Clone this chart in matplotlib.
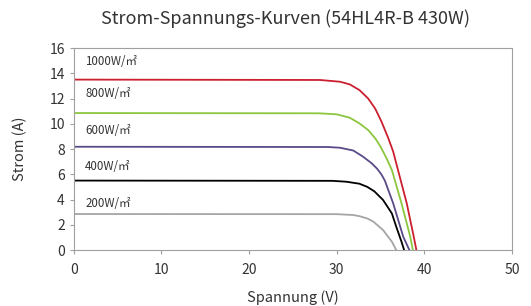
import matplotlib.pyplot as plt

plt.rcParams['font.family'] = ['Noto Sans CJK SC', 'DejaVu Sans']

# I-V curves (voltage V, current A)
v_1000 = [0, 28.1, 30.4, 31.5, 32.6, 33.6, 34.4, 35.1, 35.9, 36.45, 37.0, 38.0, 38.8, 39.1]
i_1000 = [13.5, 13.47, 13.33, 13.12, 12.67, 12.0, 11.2, 10.2, 8.85, 7.8, 6.34, 3.7, 1.05, 0]
v_800 = [0, 28.0, 30.0, 31.5, 32.6, 33.6, 34.4, 35.0, 35.7, 36.3, 37.4, 38.4, 38.7]
i_800 = [10.85, 10.83, 10.75, 10.48, 10.03, 9.5, 8.85, 8.2, 7.26, 6.34, 3.7, 1.05, 0]
v_600 = [0, 29.0, 30.4, 31.9, 33.0, 34.0, 34.6, 35.1, 35.5, 36.45, 37.6, 38.3]
i_600 = [8.18, 8.16, 8.1, 7.88, 7.4, 6.87, 6.45, 6.0, 5.5, 3.7, 1.05, 0]
v_400 = [0, 29.5, 31.1, 32.6, 33.5, 34.3, 35.3, 36.3, 36.8, 37.4, 37.7]
i_400 = [5.5, 5.48, 5.41, 5.25, 5.0, 4.65, 3.96, 2.9, 1.85, 0.66, 0]
v_200 = [0, 30.0, 31.9, 32.6, 33.5, 34.2, 35.3, 36.3, 36.8]
i_200 = [2.85, 2.84, 2.77, 2.68, 2.5, 2.24, 1.58, 0.66, 0]

labels = ['1000W/㎡', '800W/㎡', '600W/㎡', '400W/㎡', '200W/㎡']
label_y = [14.9, 12.4, 9.5, 6.6, 3.7]
colors = ['#cc1f2f', '#8cc63e', '#5a4a88', '#000000', '#a5a5a5']

fig = plt.figure(figsize=(5.31, 3.06), dpi=100)
ax = fig.add_axes([0.139, 0.183, 0.825, 0.66])

curves = [(v_1000, i_1000), (v_800, i_800), (v_600, i_600), (v_400, i_400), (v_200, i_200)]
for (v, i), c in zip(curves, colors):
    ax.plot(v, i, color=c, lw=1.3, solid_joinstyle='round')

for lab, y in zip(labels, label_y):
    ax.text(1.3, y, lab, fontsize=8.3, color='#333333', va='center')

ax.set_xlim(0, 50)
ax.set_ylim(0, 16)
ax.set_xticks([0, 10, 20, 30, 40, 50])
ax.set_yticks(range(0, 17, 2))
for s in ax.spines.values():
    s.set_color('#a0a0a0')
ax.tick_params(colors='#a0a0a0', labelcolor='#333333', labelsize=10, length=3)
ax.tick_params(axis='x', pad=6)
ax.set_xlabel('Spannung (V)', fontsize=10.5, color='#333333', labelpad=10)
ax.set_ylabel('Strom (A)', fontsize=10.5, color='#333333', labelpad=16)
fig.text(0.537, 0.94, 'Strom-Spannungs-Kurven (54HL4R-B 430W)', fontsize=13,
         color='#333333', ha='center', va='center')

fig.savefig('out.png', dpi=100)
